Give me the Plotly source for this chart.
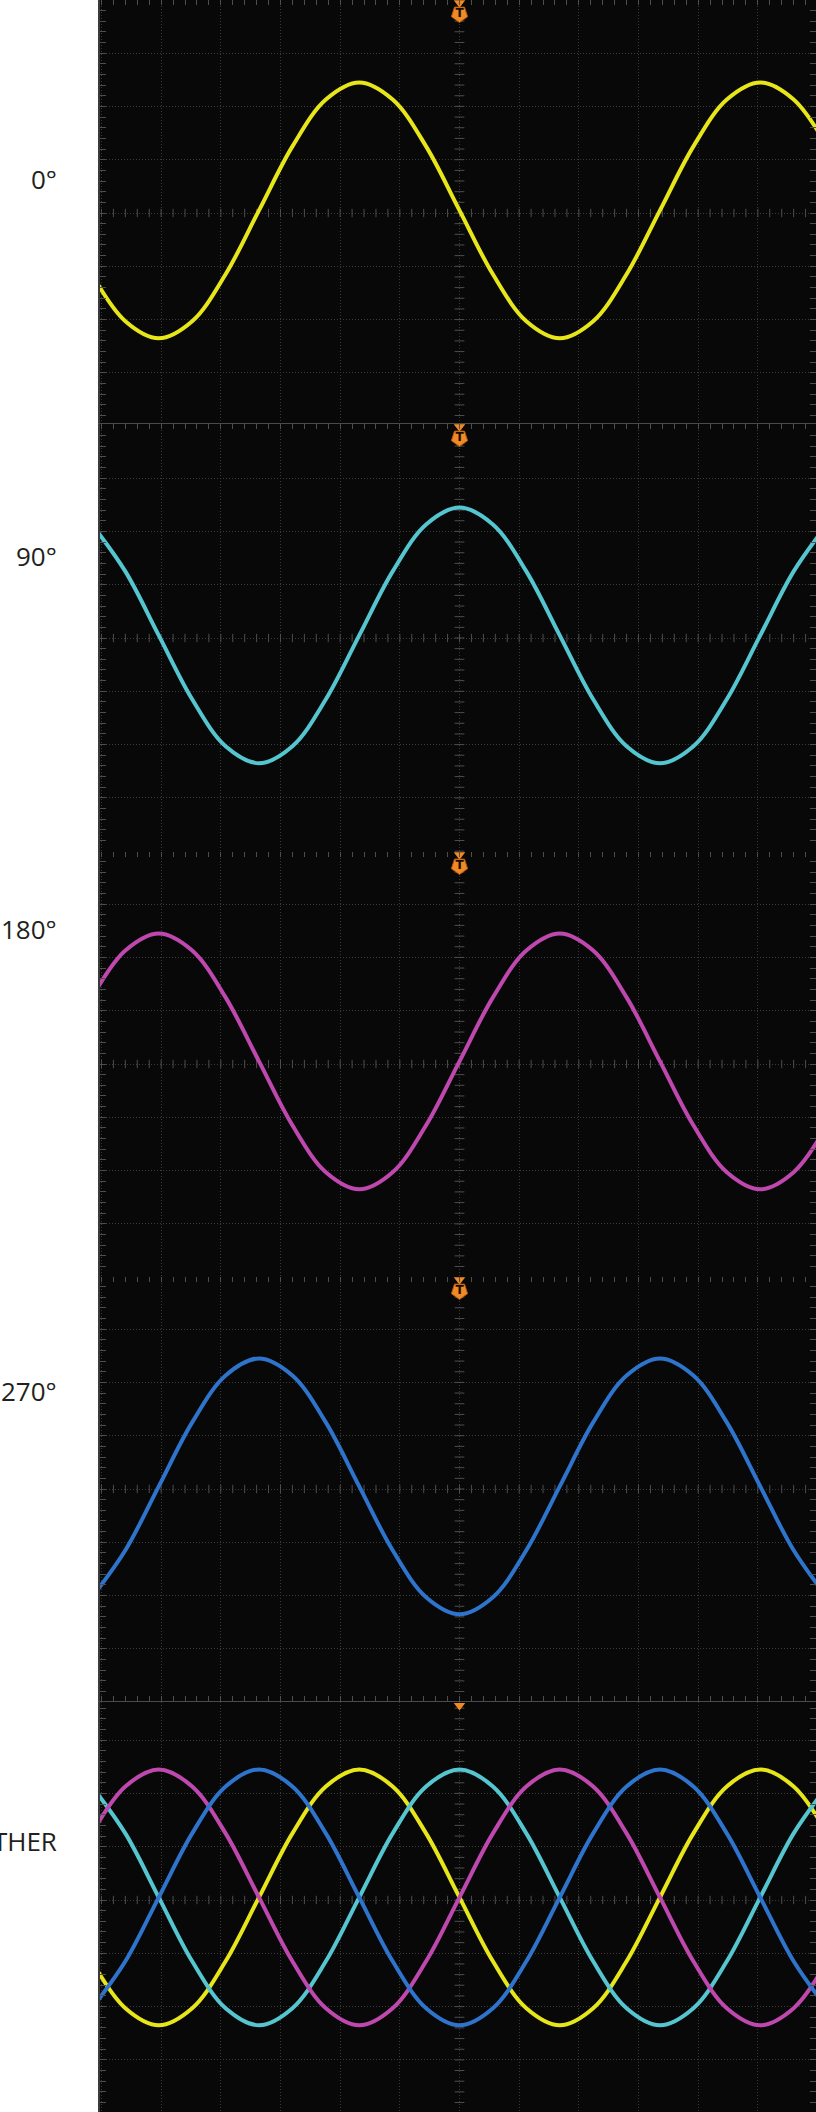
import numpy as np
import plotly.graph_objects as go

# ---------------- data ----------------
# time from the trigger, in horizontal graticule divisions (one sample every 30 deg of phase)
time_div = [-6.16, -5.60, -5.04, -4.48, -3.92, -3.36, -2.80, -2.24, -1.68, -1.12, -0.56, 0.00,
            0.56, 1.12, 1.68, 2.24, 2.80, 3.36, 3.92, 4.48, 5.04, 5.60, 6.16]
# signal level in vertical divisions
ch_0 = [-1.15, -2.03, -2.35, -2.03, -1.15, 0.05, 1.25, 2.13, 2.45, 2.13, 1.25, 0.05,
        -1.15, -2.03, -2.35, -2.03, -1.15, 0.05, 1.25, 2.13, 2.45, 2.13, 1.25]
ch_90 = [2.13, 1.25, 0.05, -1.15, -2.03, -2.35, -2.03, -1.15, 0.05, 1.25, 2.13, 2.45,
         2.13, 1.25, 0.05, -1.15, -2.03, -2.35, -2.03, -1.15, 0.05, 1.25, 2.13]
ch_180 = [1.25, 2.13, 2.45, 2.13, 1.25, 0.05, -1.15, -2.03, -2.35, -2.03, -1.15, 0.05,
          1.25, 2.13, 2.45, 2.13, 1.25, 0.05, -1.15, -2.03, -2.35, -2.03, -1.15]
ch_270 = [-2.03, -1.15, 0.05, 1.25, 2.13, 2.45, 2.13, 1.25, 0.05, -1.15, -2.03, -2.35,
          -2.03, -1.15, 0.05, 1.25, 2.13, 2.45, 2.13, 1.25, 0.05, -1.15, -2.03]
panel_labels = ["0°", "90°", "180°", "270°", "TOGETHER"]

# ---------------- styling / layout ----------------
W, H = 816, 2112
L = 100
X_CENTER = 459.5
PX_X = 59.67
PX_Y = 53.3
panel_px = [(0, 424, 213), (424, 852, 638), (852, 1277, 1064), (1277, 1702, 1489), (1702, 2112, 1900)]
label_y_px = [179, 556, 929, 1391, 1841]
colors = {"0": "#E6E61A", "90": "#55C6D0", "180": "#BE48AE", "270": "#2F74CC"}
series = {"0": ch_0, "90": ch_90, "180": ch_180, "270": ch_270}
panel_series = [["0"], ["90"], ["180"], ["270"], ["0", "90", "180", "270"]]

GRID = "#3a3a3a"
TICK = "#4e4e4e"
ORANGE = "#F08A24"

x_range = [(L - X_CENTER) / PX_X, (W - X_CENTER) / PX_X]

fig = go.Figure()
layout = dict(
    width=W, height=H,
    margin=dict(l=L, r=0, t=0, b=0, pad=0, autoexpand=False),
    paper_bgcolor="white", plot_bgcolor="#080808",
    showlegend=False,
    annotations=[],
)

for i, (top, bot, cen) in enumerate(panel_px):
    n = i + 1
    xa = "x" if n == 1 else f"x{n}"
    ya = "y" if n == 1 else f"y{n}"
    y_top = (cen - top) / PX_Y
    y_bot = -(bot - cen) / PX_Y
    dom = [1 - bot / H, 1 - top / H]

    top_ticks = "outside" if n == 5 else "inside"
    layout["xaxis" if n == 1 else f"xaxis{n}"] = dict(
        domain=[0, 1], range=x_range, anchor=ya, side="top", automargin=False,
        showgrid=True, gridcolor=GRID, griddash="1px,2px", gridwidth=1,
        tick0=0, dtick=1, ticks=top_ticks, ticklen=5, tickcolor=TICK, tickwidth=1,
        minor=dict(tick0=0, dtick=0.2, ticks=top_ticks, ticklen=5, tickcolor=TICK, tickwidth=1, showgrid=False),
        showticklabels=False, zeroline=False,
        showline=(n in (2, 5)), linecolor="#4a4a4a", linewidth=1.5,
        fixedrange=True,
    )
    layout["yaxis" if n == 1 else f"yaxis{n}"] = dict(
        domain=dom, range=[y_bot, y_top], anchor=xa, automargin=False,
        showgrid=True, gridcolor=GRID, griddash="1px,2px", gridwidth=1,
        tick0=0, dtick=1, ticks="inside", ticklen=6, tickcolor=TICK, tickwidth=1,
        minor=dict(tick0=0, dtick=0.2, ticks="inside", ticklen=6, tickcolor=TICK, tickwidth=1, showgrid=False),
        showticklabels=False, zeroline=False,
        showline=True, linecolor="#3a3a3a", linewidth=2, mirror="ticks",
        fixedrange=True,
    )

    # centre crosshair ticks of the graticule
    hx = np.round(np.arange(-6.0, 6.01, 0.2), 2)
    vy = np.round(np.arange(np.ceil(y_bot * 5) / 5, y_top + 0.001, 0.2), 2)
    fig.add_trace(go.Scatter(x=hx, y=np.zeros_like(hx), mode="markers", xaxis=xa, yaxis=ya,
                             marker=dict(symbol="line-ns", size=6, line=dict(width=1, color=TICK)),
                             hoverinfo="skip"))
    fig.add_trace(go.Scatter(x=np.zeros_like(vy), y=vy, mode="markers", xaxis=xa, yaxis=ya,
                             marker=dict(symbol="line-ew", size=7, line=dict(width=1, color=TICK)),
                             hoverinfo="skip"))

    # waveforms
    for key in panel_series[i]:
        fig.add_trace(go.Scatter(x=time_div, y=series[key], mode="lines", xaxis=xa, yaxis=ya,
                                 line=dict(color=colors[key], width=4, shape="spline"),
                                 hoverinfo="skip"))

    # trigger marker
    if n < 5:
        fig.add_trace(go.Scatter(x=[0], y=[y_top - 2.8 / PX_Y], mode="markers", xaxis=xa, yaxis=ya,
                                 marker=dict(symbol="triangle-down", size=10, color=ORANGE, line=dict(width=0)),
                                 cliponaxis=False, hoverinfo="skip"))
        fig.add_trace(go.Scatter(x=[0], y=[y_top - 14 / PX_Y], mode="markers+text", xaxis=xa, yaxis=ya,
                                 marker=dict(symbol="pentagon", angle=180, size=17, color=ORANGE,
                                             line=dict(width=1, color="#b35a10")),
                                 text=["T"], textposition="middle center",
                                 textfont=dict(family="DejaVu Sans", size=12, color="#1a0d00", weight=700),
                                 cliponaxis=False, hoverinfo="skip"))
    else:
        fig.add_trace(go.Scatter(x=[0], y=[y_top - 3.5 / PX_Y], mode="markers", xaxis=xa, yaxis=ya,
                                 marker=dict(symbol="triangle-down", size=10, color=ORANGE, line=dict(width=0)),
                                 cliponaxis=False, hoverinfo="skip"))

    layout["annotations"].append(dict(
        text=panel_labels[i], xref="paper", yref="paper",
        x=(59 - L) / (W - L), y=1 - label_y_px[i] / H,
        xanchor="right", yanchor="middle", showarrow=False,
        font=dict(family="Open Sans", size=26, color="#231f20"),
    ))

fig.update_layout(**layout)
# the page body has a default margin; remove it so the figure sits at the window's corner
fig.write_html("out.html", config={"displayModeBar": False, "staticPlot": True},
               post_script="document.body.style.margin='0';document.body.style.padding='0';")
